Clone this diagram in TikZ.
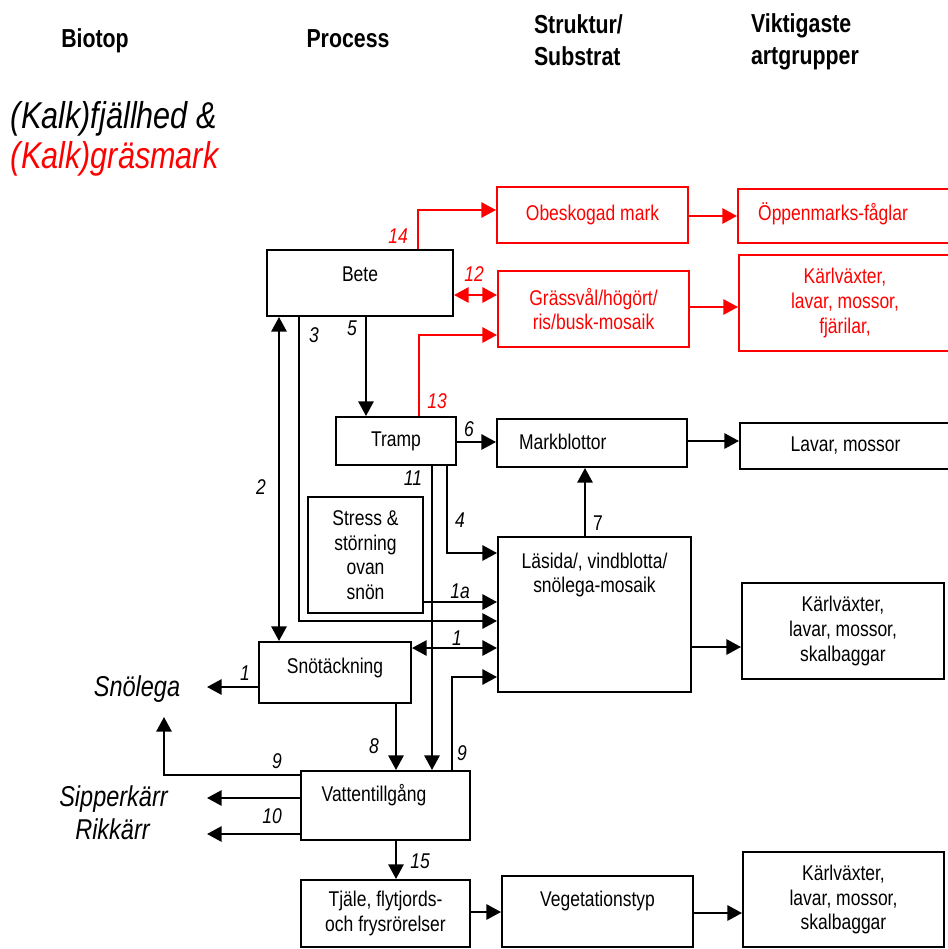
\documentclass[tikz,border=0pt]{standalone}
\usepackage{fontspec}
\setmainfont{Liberation Sans}[FakeStretch=0.82]
\usetikzlibrary{arrows.meta}
\definecolor{fg}{RGB}{0,0,0}
\definecolor{rd}{RGB}{255,0,0}
\tikzset{
  every picture/.style={fg, line width=1.5pt,
    >={Triangle[length=11pt,width=11.5pt]}},
  every node/.style={font=\fontsize{16}{18.5}\selectfont},
  % Rutor
  box/.style={draw, line width=1.5pt, inner sep=2pt, align=center},
  rbox/.style={box, rd},
  txt/.style={inner sep=0pt, align=center},
  % Siffror vid pilarna
  num/.style={font=\fontsize{16}{18.5}\selectfont\itshape, inner sep=0pt},
  rnum/.style={num, rd},
  % Rubriker och biotoper
  head/.style={font=\fontsize{19.5}{24}\selectfont\bfseries, inner sep=0pt, align=left},
  big/.style={font=\fontsize{28}{30}\selectfont\itshape, inner sep=0pt},
  biot/.style={font=\fontsize{21.5}{26}\selectfont\itshape, inner sep=0pt},
}
\begin{document}
\begin{tikzpicture}[x=0.75pt, y=-0.75pt]
  \useasboundingbox (0,0) rectangle (948,949);
  % Rubriker
  \node[head, anchor=base] (h-biotop) at (95,48) {Biotop};
  \node[head, anchor=base] (h-process) at (348,48) {Process};
  \node[head, anchor=west] (h-struktur) at (533,40) {Struktur/\\Substrat};
  \node[head, anchor=west] (h-arter) at (750,42) {Viktigaste\\artgrupper};
  \node[big, anchor=base west] (t-fjall) at (10,128) {(Kalk)fjällhed \&};
  \node[big, rd, anchor=base west] (t-gras) at (10,168) {(Kalk)gräsmark};
  % Processer
  \node[box, minimum width=139.5pt, minimum height=49.5pt] (bete) at (360,283) {};
  \node[txt, anchor=base] (bete-t) at (360,281.5) {Bete};
  \node[box, minimum width=90pt, minimum height=36pt] (tramp) at (396,441) {Tramp};
  \node[box, minimum width=86.25pt, minimum height=87pt] (stress) at (365.5,555) {Stress \&\\störning\\ovan\\snön};
  \node[box, minimum width=114pt, minimum height=45.75pt] (sno) at (335,672.5) {};
  \node[txt, anchor=base] (sno-t) at (335,673) {Snötäckning};
  \node[box, minimum width=126.75pt, minimum height=51.75pt] (vatten) at (385.5,805.5) {};
  \node[txt, anchor=base] (vatten-t) at (374,801.5) {Vattentillgång};
  \node[box, minimum width=126.75pt, minimum height=50.25pt] (tjale) at (385.5,913.5) {Tjäle, flytjords-\\och frysrörelser};
  % Struktur/substrat
  \node[rbox, minimum width=143.25pt, minimum height=42pt] (obesk) at (592.5,215) {Obeskogad mark};
  \node[rbox, minimum width=143.25pt, minimum height=57pt] (grass) at (593.5,309) {Grässvål/högört/\\ris/busk-mosaik};
  \node[box, minimum width=142.5pt, minimum height=36pt] (markb) at (592,443) {};
  \node[txt, anchor=base west] (markb-t) at (518,449) {Markblottor};
  \node[box, minimum width=144.75pt, minimum height=116.25pt] (lasida) at (594.5,614.5) {};
  \node[txt] (lasida-t) at (594.5,575) {Läsida/, vindblotta/\\snölega-mosaik};
  \node[box, minimum width=143.25pt, minimum height=53.25pt] (veg) at (597.5,911.5) {};
  \node[txt, anchor=base] (veg-t) at (597.5,906.5) {Vegetationstyp};
  % Artgrupper
  \node[rbox, minimum width=159.75pt, minimum height=40.5pt] (oppen) at (844.5,216) {};
  \node[txt, rd, anchor=base] (oppen-t) at (833,220.5) {Öppenmarks-fåglar};
  \node[rbox, minimum width=159pt, minimum height=72pt] (karl-r) at (845,303) {Kärlväxter,\\lavar, mossor,\\fjärilar,};
  \node[box, minimum width=158.25pt, minimum height=34.5pt] (lavar) at (845.5,446) {Lavar, mossor};
  \node[box, minimum width=151.5pt, minimum height=72pt] (karl-m) at (843,631) {Kärlväxter,\\lavar, mossor,\\skalbaggar};
  \node[box, minimum width=150.75pt, minimum height=71.25pt] (karl-b) at (843.5,899.5) {Kärlväxter,\\lavar, mossor,\\skalbaggar};
  % Biotoper till vänster
  \node[biot, anchor=base] (snolega) at (137,696.5) {Snölega};
  \node[biot, anchor=base] (sipper) at (113.5,806.5) {Sipperkärr};
  \node[biot, anchor=base] (rikkarr) at (112.5,839) {Rikkärr};
  \coordinate (to-snolega) at (207,687);
  \coordinate (up-snolega) at (164,717);
  \coordinate (to-sipper) at (207,798);
  \coordinate (to-rikkarr) at (207,834);
  % Röda pilar
  \draw[rd, ->] (bete.north -| 418,0) |- (obesk.west |- 0,210);
  \draw[rd, <->] (bete.east |- 0,295) -- (grass.west |- 0,295);
  \draw[rd, ->] (tramp.north -| 419,0) |- (grass.west |- 0,335);
  \draw[rd, ->] (obesk.east |- 0,216) -- (oppen.west |- 0,216);
  \draw[rd, ->] (grass.east |- 0,307) -- (karl-r.west |- 0,307);
  % Svarta pilar
  \draw[<->] (bete.south -| 279,0) -- (sno.north -| 279,0);
  \draw[->] (bete.south -| 299,0) |- (lasida.west |- 0,621);
  \draw[->] (bete.south -| 366,0) -- (tramp.north -| 366,0);
  \draw[->] (tramp.east |- 0,442) -- (markb.west |- 0,442);
  \draw[->] (tramp.south -| 447,0) |- (lasida.west |- 0,553);
  \draw[->] (tramp.south -| 432,0) -- (vatten.north -| 432,0);
  \draw[->] (markb.east |- 0,441) -- (lavar.west |- 0,441);
  \draw[->] (lasida.north -| 585,0) -- (markb.south -| 585,0);
  \draw[->] (lasida.east |- 0,647) -- (karl-m.west |- 0,647);
  \draw[->] (stress.east |- 0,602) -- (lasida.west |- 0,602);
  \draw[<->] (sno.east |- 0,648) -- (lasida.west |- 0,648);
  \draw[->] (vatten.north -| 452,0) |- (lasida.west |- 0,677);
  \draw[->] (sno.south -| 396,0) -- (vatten.north -| 396,0);
  \draw[->] (sno.west |- 0,687) -- (to-snolega);
  \draw[->] (vatten.west |- 0,775) -| (up-snolega);
  \draw[->] (vatten.west |- 0,798) -- (to-sipper);
  \draw[->] (vatten.west |- 0,834) -- (to-rikkarr);
  \draw[->] (vatten.south -| 396,0) -- (tjale.north -| 396,0);
  \draw[->] (tjale.east |- 0,912) -- (veg.west |- 0,912);
  \draw[->] (veg.east |- 0,913) -- (karl-b.west |- 0,913);
  % Siffror
  \node[rnum] (n14) at (398,236) {14};
  \node[rnum] (n12) at (474,274) {12};
  \node[rnum] (n13) at (437,401) {13};
  \node[num] (n2) at (261,487) {2};
  \node[num] (n3) at (314,335) {3};
  \node[num] (n5) at (352,328) {5};
  \node[num] (n6) at (469,429) {6};
  \node[num] (n11) at (413,478) {11};
  \node[num] (n4) at (460,520) {4};
  \node[num, font=\fontsize{16}{18.5}\selectfont] (n7) at (598,523) {7};
  \node[num] (n1a) at (460,591) {1a};
  \node[num] (n1r) at (457,638) {1};
  \node[num] (n1l) at (245,673) {1};
  \node[num] (n8) at (374,746) {8};
  \node[num] (n9r) at (462,753) {9};
  \node[num] (n9l) at (277,761) {9};
  \node[num] (n10) at (272,816) {10};
  \node[num] (n15) at (420,861) {15};
\end{tikzpicture}
\end{document}
